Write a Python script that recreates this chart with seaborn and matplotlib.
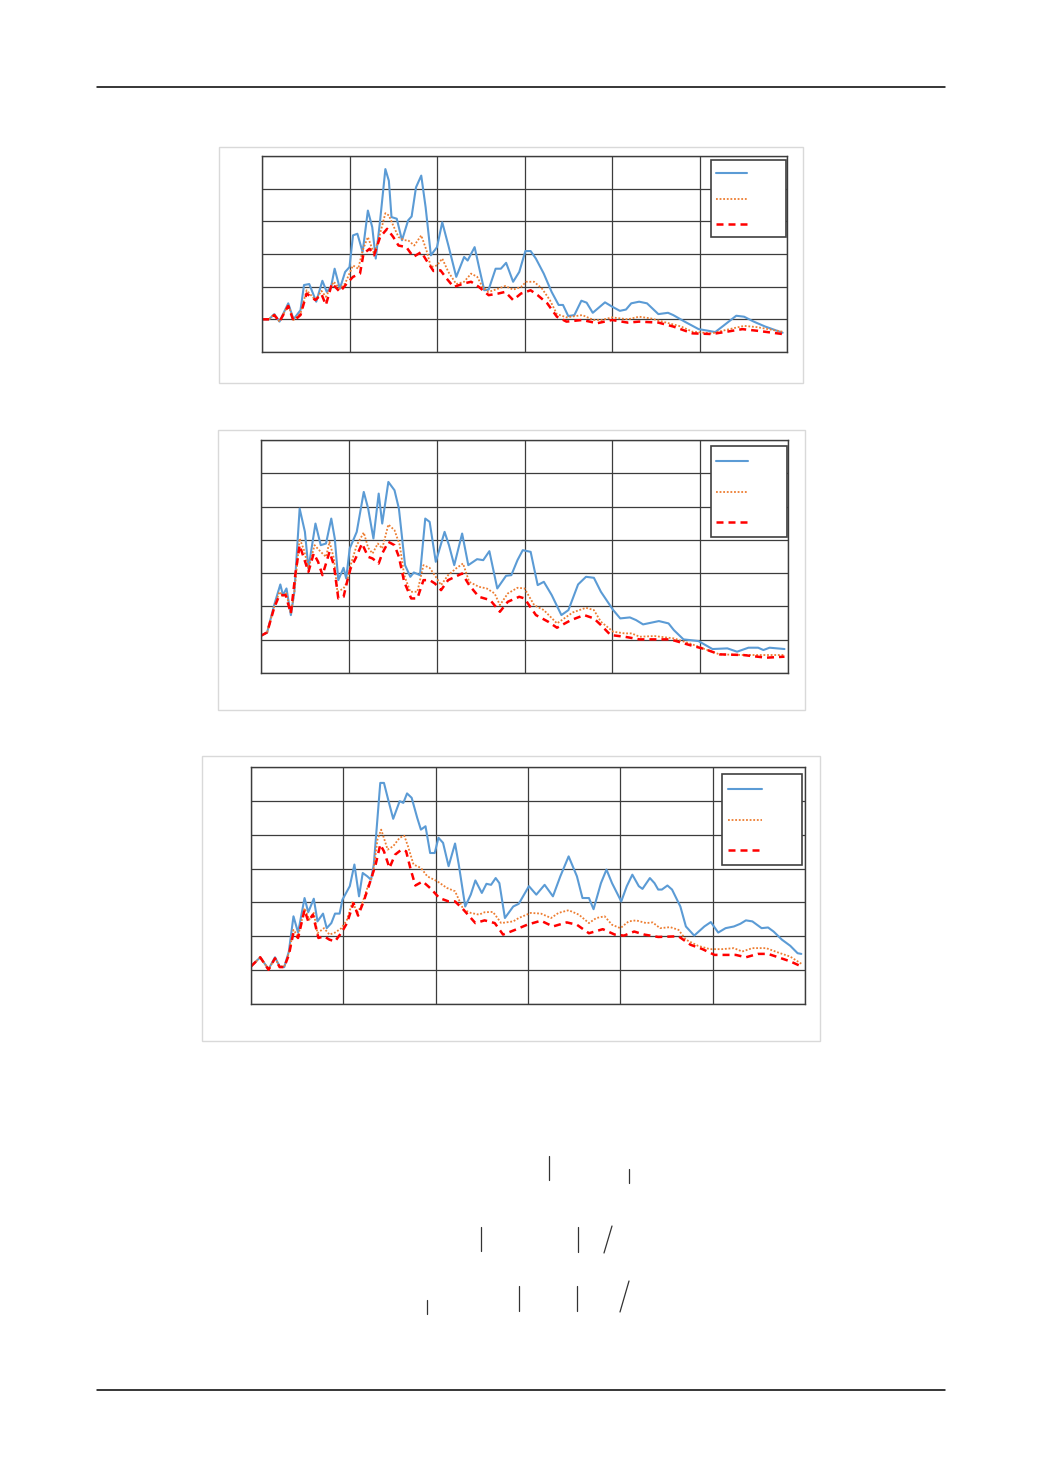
import matplotlib
matplotlib.use("Agg")
import matplotlib.pyplot as plt
from matplotlib.lines import Line2D
from matplotlib.patches import Rectangle
import numpy as np
import pandas as pd
import seaborn as sns

sns.set_theme(style="white")
plt.rcParams["font.family"] = ["DejaVu Sans"]

# ---------------------------------------------------------------- data
# (x, value) pairs for the three traces of each panel
panel_a_solid = [
    (0.00, 0.00), (0.08, 0.00), (0.14, 0.16), (0.20, -0.07), (0.30, 0.49), (0.36, 0.00),
    (0.44, 0.28), (0.48, 1.05), (0.54, 1.08), (0.62, 0.54), (0.69, 1.18), (0.74, 0.84),
    (0.79, 1.00), (0.83, 1.55), (0.89, 0.94), (0.95, 1.45), (1.00, 1.60), (1.04, 2.57),
    (1.09, 2.62), (1.15, 2.06), (1.21, 3.33), (1.26, 2.82), (1.30, 1.86), (1.35, 3.03),
    (1.41, 4.60), (1.45, 4.24), (1.48, 3.13), (1.54, 3.08), (1.60, 2.42), (1.67, 3.03),
    (1.71, 3.15), (1.76, 4.04), (1.82, 4.40), (1.87, 3.43), (1.93, 1.96), (2.00, 2.21),
    (2.06, 2.97), (2.13, 2.26), (2.22, 1.30), (2.31, 1.91), (2.35, 1.80), (2.43, 2.21),
    (2.48, 1.60), (2.54, 0.89), (2.59, 0.91), (2.67, 1.55), (2.73, 1.55), (2.79, 1.73),
    (2.87, 1.15), (2.94, 1.45), (3.01, 2.09), (3.07, 2.09), (3.13, 1.86), (3.22, 1.40),
    (3.31, 0.84), (3.39, 0.44), (3.44, 0.44), (3.50, 0.10), (3.57, 0.13), (3.65, 0.57),
    (3.71, 0.51), (3.78, 0.20), (3.92, 0.52), (4.00, 0.39), (4.09, 0.26), (4.16, 0.30),
    (4.22, 0.49), (4.31, 0.54), (4.40, 0.49), (4.53, 0.16), (4.64, 0.20), (4.70, 0.13),
    (4.83, -0.07), (4.99, -0.30), (5.10, -0.35), (5.18, -0.39), (5.31, -0.12), (5.42, 0.11),
    (5.51, 0.08), (5.62, -0.07), (5.75, -0.22), (5.95, -0.41),
]
panel_a_dotted = [
    (0.00, 0.00), (0.08, 0.00), (0.14, 0.16), (0.20, -0.07), (0.30, 0.44), (0.36, -0.02),
    (0.44, 0.18), (0.51, 0.89), (0.61, 0.59), (0.68, 0.87), (0.73, 0.69), (0.82, 1.15),
    (0.89, 0.94), (0.95, 1.10), (1.04, 1.65), (1.10, 1.55), (1.15, 2.11), (1.21, 2.52),
    (1.28, 2.01), (1.34, 2.52), (1.41, 3.25), (1.45, 3.18), (1.50, 2.87), (1.56, 2.52),
    (1.63, 2.42), (1.67, 2.42), (1.74, 2.26), (1.82, 2.57), (1.88, 2.11), (1.93, 1.60),
    (2.00, 1.65), (2.06, 1.86), (2.13, 1.45), (2.22, 1.08), (2.31, 1.15), (2.39, 1.40),
    (2.46, 1.30), (2.52, 0.99), (2.59, 0.84), (2.70, 0.94), (2.78, 1.02), (2.87, 0.91),
    (2.96, 0.99), (3.02, 1.15), (3.11, 1.15), (3.20, 0.94), (3.29, 0.59), (3.37, 0.16),
    (3.48, 0.06), (3.66, 0.13), (3.79, -0.02), (3.88, -0.02), (4.00, 0.06), (4.18, 0.00),
    (4.31, 0.08), (4.44, 0.03), (4.62, -0.10), (4.79, -0.22), (4.92, -0.38), (5.14, -0.43),
    (5.31, -0.32), (5.51, -0.20), (5.66, -0.24), (5.95, -0.38),
]
panel_a_dashed = [
    (0.00, 0.00), (0.08, 0.00), (0.14, 0.13), (0.20, -0.07), (0.30, 0.41), (0.36, -0.05),
    (0.44, 0.13), (0.51, 0.79), (0.61, 0.59), (0.68, 0.77), (0.73, 0.44), (0.80, 1.10),
    (0.89, 0.84), (0.97, 1.10), (1.04, 1.30), (1.12, 1.40), (1.16, 2.01), (1.23, 2.16),
    (1.28, 1.96), (1.35, 2.52), (1.43, 2.77), (1.50, 2.52), (1.56, 2.26), (1.65, 2.21),
    (1.73, 1.91), (1.82, 2.06), (1.89, 1.76), (1.96, 1.48), (2.04, 1.50), (2.11, 1.25),
    (2.19, 0.99), (2.31, 1.10), (2.39, 1.15), (2.48, 0.99), (2.59, 0.74), (2.70, 0.79),
    (2.78, 0.84), (2.87, 0.59), (2.96, 0.79), (3.07, 0.89), (3.15, 0.74), (3.26, 0.49),
    (3.37, 0.08), (3.48, -0.07), (3.66, -0.02), (3.83, -0.12), (4.00, -0.02), (4.18, -0.10),
    (4.31, -0.07), (4.53, -0.10), (4.70, -0.22), (4.92, -0.43), (5.14, -0.45), (5.31, -0.38),
    (5.49, -0.30), (5.66, -0.35), (5.95, -0.45),
]

panel_b_solid = [
    (0.00, 0.12), (0.07, 0.22), (0.15, 1.04), (0.22, 1.66), (0.25, 1.34), (0.29, 1.54),
    (0.34, 0.74), (0.38, 1.44), (0.44, 3.94), (0.50, 3.24), (0.54, 2.14), (0.62, 3.49),
    (0.68, 2.84), (0.74, 2.89), (0.80, 3.64), (0.84, 3.04), (0.88, 1.79), (0.94, 2.16),
    (0.97, 1.84), (1.01, 2.74), (1.09, 3.24), (1.17, 4.44), (1.22, 3.94), (1.28, 3.04),
    (1.34, 4.39), (1.38, 3.49), (1.45, 4.74), (1.52, 4.49), (1.57, 3.94), (1.64, 2.24),
    (1.70, 1.89), (1.74, 2.02), (1.81, 1.94), (1.87, 3.64), (1.92, 3.54), (1.99, 2.34),
    (2.04, 2.79), (2.09, 3.24), (2.14, 2.84), (2.20, 2.24), (2.29, 3.19), (2.36, 2.24),
    (2.46, 2.42), (2.53, 2.39), (2.60, 2.66), (2.69, 1.54), (2.79, 1.92), (2.85, 1.94),
    (2.92, 2.39), (2.98, 2.69), (3.07, 2.64), (3.15, 1.64), (3.22, 1.74), (3.31, 1.34),
    (3.42, 0.74), (3.50, 0.89), (3.61, 1.66), (3.70, 1.89), (3.79, 1.86), (3.87, 1.44),
    (4.01, 0.89), (4.09, 0.64), (4.20, 0.67), (4.27, 0.59), (4.35, 0.46), (4.53, 0.56),
    (4.64, 0.49), (4.70, 0.29), (4.81, 0.01), (4.98, -0.04), (5.14, -0.28), (5.31, -0.26),
    (5.42, -0.36), (5.55, -0.24), (5.66, -0.24), (5.72, -0.31), (5.79, -0.24), (5.96, -0.28),
]
panel_b_dotted = [
    (0.00, 0.12), (0.07, 0.22), (0.15, 0.99), (0.21, 1.44), (0.25, 1.32), (0.29, 1.39),
    (0.34, 0.79), (0.38, 1.44), (0.44, 3.04), (0.49, 2.69), (0.54, 2.14), (0.61, 2.84),
    (0.68, 2.64), (0.74, 2.49), (0.78, 2.94), (0.83, 2.44), (0.87, 1.44), (0.94, 1.54),
    (0.98, 1.74), (1.02, 2.24), (1.09, 2.84), (1.17, 3.22), (1.22, 2.76), (1.27, 2.59),
    (1.33, 2.89), (1.38, 2.74), (1.45, 3.46), (1.52, 3.29), (1.58, 2.84), (1.63, 1.94),
    (1.70, 1.44), (1.78, 1.44), (1.85, 2.24), (1.92, 2.16), (1.99, 1.89), (2.05, 1.64),
    (2.13, 1.94), (2.22, 2.14), (2.30, 2.29), (2.37, 1.74), (2.48, 1.59), (2.57, 1.54),
    (2.66, 1.39), (2.72, 1.04), (2.81, 1.39), (2.92, 1.56), (3.00, 1.54), (3.11, 1.04),
    (3.22, 0.89), (3.37, 0.49), (3.55, 0.82), (3.70, 0.96), (3.79, 0.89), (3.87, 0.54),
    (4.01, 0.24), (4.14, 0.19), (4.22, 0.19), (4.31, 0.09), (4.48, 0.11), (4.70, 0.04),
    (4.88, -0.11), (5.05, -0.28), (5.22, -0.44), (5.49, -0.46), (5.75, -0.46), (5.96, -0.46),
]
panel_b_dashed = [
    (0.00, 0.12), (0.07, 0.22), (0.15, 0.96), (0.21, 1.34), (0.28, 1.34), (0.34, 0.79),
    (0.39, 1.94), (0.44, 2.84), (0.49, 2.44), (0.54, 2.04), (0.60, 2.59), (0.65, 2.34),
    (0.70, 1.94), (0.78, 2.64), (0.83, 2.24), (0.88, 1.24), (0.94, 1.29), (0.98, 1.74),
    (1.02, 2.14), (1.08, 2.46), (1.15, 2.89), (1.22, 2.49), (1.27, 2.44), (1.34, 2.29),
    (1.38, 2.59), (1.45, 2.94), (1.52, 2.84), (1.57, 2.49), (1.63, 1.74), (1.71, 1.24),
    (1.78, 1.24), (1.85, 1.79), (1.92, 1.79), (1.98, 1.69), (2.05, 1.49), (2.13, 1.79),
    (2.29, 1.99), (2.37, 1.64), (2.48, 1.29), (2.61, 1.19), (2.72, 0.84), (2.81, 1.14),
    (2.94, 1.29), (3.00, 1.24), (3.13, 0.74), (3.27, 0.54), (3.37, 0.36), (3.53, 0.59),
    (3.68, 0.74), (3.79, 0.64), (3.87, 0.44), (3.98, 0.14), (4.14, 0.09), (4.31, 0.01),
    (4.48, 0.01), (4.66, 0.01), (4.88, -0.16), (5.05, -0.28), (5.22, -0.44), (5.49, -0.46),
    (5.75, -0.54), (5.96, -0.51),
]

panel_c_solid = [
    (0.00, 0.11), (0.10, 0.38), (0.19, 0.03), (0.26, 0.38), (0.31, 0.11), (0.36, 0.09),
    (0.41, 0.55), (0.46, 1.59), (0.51, 1.11), (0.58, 2.13), (0.62, 1.71), (0.68, 2.11),
    (0.72, 1.44), (0.78, 1.67), (0.82, 1.24), (0.87, 1.39), (0.91, 1.67), (0.96, 1.67),
    (0.99, 2.08), (1.07, 2.48), (1.12, 3.12), (1.17, 2.18), (1.21, 2.87), (1.26, 2.77),
    (1.30, 2.67), (1.33, 3.12), (1.40, 5.53), (1.44, 5.53), (1.49, 4.99), (1.54, 4.47),
    (1.61, 4.99), (1.65, 4.94), (1.69, 5.22), (1.74, 5.09), (1.80, 4.50), (1.84, 4.15),
    (1.89, 4.25), (1.94, 3.46), (1.99, 3.46), (2.03, 3.91), (2.08, 3.76), (2.14, 3.07),
    (2.21, 3.74), (2.25, 3.12), (2.32, 1.88), (2.38, 2.23), (2.43, 2.65), (2.50, 2.28),
    (2.55, 2.55), (2.60, 2.52), (2.65, 2.72), (2.69, 2.57), (2.75, 1.54), (2.84, 1.88),
    (2.90, 1.96), (3.01, 2.48), (3.09, 2.23), (3.18, 2.52), (3.27, 2.18), (3.35, 2.77),
    (3.44, 3.36), (3.53, 2.77), (3.59, 2.13), (3.66, 2.13), (3.71, 1.80), (3.79, 2.57),
    (3.85, 2.97), (3.91, 2.57), (4.01, 2.03), (4.07, 2.48), (4.13, 2.82), (4.20, 2.48),
    (4.24, 2.40), (4.32, 2.72), (4.37, 2.57), (4.41, 2.38), (4.45, 2.38), (4.51, 2.50),
    (4.56, 2.38), (4.65, 1.88), (4.71, 1.29), (4.80, 1.02), (4.91, 1.29), (4.98, 1.42),
    (5.06, 1.11), (5.14, 1.24), (5.23, 1.29), (5.30, 1.37), (5.36, 1.47), (5.43, 1.44),
    (5.53, 1.24), (5.60, 1.26), (5.66, 1.14), (5.75, 0.90), (5.84, 0.72), (5.92, 0.50),
    (5.96, 0.48),
]
panel_c_dotted = [
    (0.00, 0.11), (0.10, 0.38), (0.19, 0.03), (0.26, 0.35), (0.31, 0.11), (0.36, 0.11),
    (0.41, 0.50), (0.46, 1.19), (0.51, 1.00), (0.58, 1.83), (0.63, 1.49), (0.68, 1.69),
    (0.72, 1.09), (0.79, 1.24), (0.85, 1.05), (0.91, 1.11), (0.98, 1.24), (1.04, 1.49),
    (1.10, 2.03), (1.15, 1.69), (1.20, 1.93), (1.26, 2.43), (1.32, 2.82), (1.37, 3.86),
    (1.41, 4.15), (1.48, 3.56), (1.54, 3.66), (1.61, 3.91), (1.66, 3.97), (1.70, 3.66),
    (1.76, 3.12), (1.84, 3.02), (1.91, 2.77), (2.02, 2.62), (2.12, 2.43), (2.21, 2.33),
    (2.30, 1.79), (2.38, 1.69), (2.47, 1.64), (2.53, 1.71), (2.62, 1.72), (2.71, 1.39),
    (2.84, 1.44), (2.90, 1.54), (3.03, 1.69), (3.14, 1.67), (3.25, 1.54), (3.33, 1.69),
    (3.44, 1.77), (3.55, 1.64), (3.66, 1.39), (3.74, 1.54), (3.83, 1.59), (3.91, 1.34),
    (4.00, 1.24), (4.09, 1.44), (4.17, 1.47), (4.28, 1.39), (4.35, 1.41), (4.43, 1.24),
    (4.54, 1.27), (4.63, 1.19), (4.71, 0.90), (4.84, 0.72), (4.97, 0.62), (5.10, 0.62),
    (5.23, 0.65), (5.32, 0.55), (5.43, 0.65), (5.58, 0.65), (5.71, 0.52), (5.84, 0.40),
    (5.96, 0.19),
]
panel_c_dashed = [
    (0.00, 0.11), (0.10, 0.38), (0.19, 0.01), (0.26, 0.35), (0.31, 0.09), (0.36, 0.09),
    (0.41, 0.45), (0.46, 1.11), (0.51, 0.95), (0.58, 1.78), (0.62, 1.44), (0.67, 1.64),
    (0.73, 0.95), (0.79, 1.00), (0.85, 0.90), (0.91, 0.85), (0.98, 1.11), (1.04, 1.39),
    (1.11, 1.98), (1.16, 1.61), (1.22, 2.03), (1.28, 2.52), (1.35, 3.12), (1.40, 3.71),
    (1.44, 3.51), (1.50, 3.02), (1.56, 3.41), (1.63, 3.56), (1.68, 3.51), (1.73, 2.97),
    (1.78, 2.50), (1.86, 2.62), (1.95, 2.40), (2.04, 2.13), (2.14, 2.03), (2.21, 2.03),
    (2.30, 1.79), (2.43, 1.39), (2.53, 1.47), (2.64, 1.39), (2.73, 1.05), (2.86, 1.19),
    (2.99, 1.34), (3.14, 1.46), (3.27, 1.29), (3.42, 1.41), (3.53, 1.34), (3.66, 1.09),
    (3.81, 1.21), (3.94, 1.05), (4.04, 1.02), (4.15, 1.14), (4.26, 1.05), (4.41, 0.98),
    (4.63, 1.00), (4.76, 0.75), (4.89, 0.62), (5.02, 0.45), (5.14, 0.45), (5.25, 0.45),
    (5.36, 0.38), (5.49, 0.48), (5.60, 0.48), (5.71, 0.38), (5.84, 0.26), (5.96, 0.11),
]

x_grid = [0, 1, 2, 3, 4, 5, 6]
panel_a_yrange = [-1, 5]
panel_b_yrange = [-1, 6]
panel_c_yrange = [-1, 6]

# ---------------------------------------------------------------- page
W, H = 1040, 1473
DPI = 100
fig = plt.figure(figsize=(W / DPI, H / DPI), dpi=DPI)
fig.patch.set_facecolor("white")


def fbox(x0, y0, x1, y1):
    return [x0 / W, 1 - y1 / H, (x1 - x0) / W, (y1 - y0) / H]


def page_rule(y):
    fig.add_artist(Line2D([97 / W, 945 / W], [1 - y / H] * 2,
                          transform=fig.transFigure, color="black", lw=1.1))


page_rule(87)
page_rule(1390)

trace_styles = {
    "solid": dict(color="#5B9BD5", lw=1.5, linestyle="-"),
    "dotted": dict(color="#ED7D31", lw=1.3, linestyle=(0, (1, 1.0))),
    "dashed": dict(color="#FF0000", lw=1.8, linestyle=(0, (2.8, 2.0))),
}

panels = [
    # chart frame, axes box, y range, traces,
    # legend box (left, top, width, height, row pitch, side pad, handle length) in px
    dict(frame=(219, 147, 803, 383), axes=(262, 156, 787, 352), yr=panel_a_yrange,
         traces={"solid": panel_a_solid, "dotted": panel_a_dotted, "dashed": panel_a_dashed},
         legend=(711, 160, 75, 77, 25.5, 5, 31)),
    dict(frame=(218, 430, 805, 710), axes=(261, 440, 788, 673), yr=panel_b_yrange,
         traces={"solid": panel_b_solid, "dotted": panel_b_dotted, "dashed": panel_b_dashed},
         legend=(711, 446, 76, 91, 30.5, 5, 32)),
    dict(frame=(202, 756, 820, 1041), axes=(251, 767, 805, 1004), yr=panel_c_yrange,
         traces={"solid": panel_c_solid, "dotted": panel_c_dotted, "dashed": panel_c_dashed},
         legend=(722, 774, 80, 91, 30.5, 6, 34)),
]

grid_color = "#3c3c3c"
fs_pt = 6
fs_px = fs_pt * DPI / 72


def make_legend(ax, handles, spec, hh, ls):
    lx, ly, lw_, lh, pitch, pad, hlen = spec
    leg = ax.legend(handles=handles, labels=["", "", ""], loc="upper left",
                    bbox_to_anchor=(lx / W, 1 - ly / H), bbox_transform=fig.transFigure,
                    borderaxespad=0, fontsize=fs_pt, frameon=True, fancybox=False,
                    framealpha=1, edgecolor="#404040",
                    borderpad=pad / fs_px, labelspacing=ls,
                    handleheight=hh, handlelength=hlen / fs_px,
                    handletextpad=(lw_ - 2 * pad - hlen) / fs_px)
    leg.get_frame().set_linewidth(1.2)
    return leg


def fitted_legend(ax, handles, spec):
    """Tune row height and spacing so the legend box and rows land on the given sizes."""
    lx, ly, lw_, lh, pitch, pad, hlen = spec
    row_t = lh - 2 * pad - 2 * pitch
    gap_t = pitch - row_t
    hh = (row_t / fs_px - 0.245) / 0.65
    ls = gap_t / fs_px
    for _ in range(4):
        leg = make_legend(ax, handles, spec, hh, ls)
        fig.canvas.draw()
        r = fig.canvas.get_renderer()
        box_h = leg.get_frame().get_window_extent(r).height
        ys = [np.mean(l.get_window_extent(r).intervaly) for l in leg.get_lines()]
        pitch_got = float(np.mean(np.abs(np.diff(ys))))
        row_got = box_h - 2 * pad - 2 * pitch_got
        gap_got = pitch_got - row_got
        hh += (row_t - row_got) / (0.65 * fs_px)
        ls += (gap_t - gap_got) / fs_px
    leg = make_legend(ax, handles, spec, hh, ls)
    # the handle lines sit half a descent above the row centre; bring them back to it
    descent_pt = 0.35 * fs_pt * (hh - 0.7)
    for l in leg.get_lines():
        yd = np.asarray(l.get_ydata(), dtype=float)
        l.set_ydata(yd - descent_pt / 2)
    return leg


for p in panels:
    fx0, fy0, fx1, fy1 = p["frame"]
    fig.add_artist(Rectangle((fx0 / W, 1 - fy1 / H), (fx1 - fx0) / W, (fy1 - fy0) / H,
                             transform=fig.transFigure, fill=False,
                             edgecolor="#d9d9d9", lw=1.0))
    ax = fig.add_axes(fbox(*p["axes"]))
    ax.set_facecolor("white")

    handles = []
    for name, pts in p["traces"].items():
        df = pd.DataFrame(pts, columns=["x", "value"])
        sns.lineplot(data=df, x="x", y="value", ax=ax, estimator=None, sort=False,
                     legend=False, **trace_styles[name])
        handles.append(ax.lines[-1])

    ax.set_xlim(x_grid[0], x_grid[-1])
    ax.set_ylim(*p["yr"])
    ax.set_xticks(x_grid)
    ax.set_yticks(range(p["yr"][0], p["yr"][1] + 1))
    ax.grid(True, color=grid_color, lw=0.9)
    ax.set_axisbelow(True)
    ax.tick_params(labelleft=False, labelbottom=False, length=0)
    ax.set_xlabel("")
    ax.set_ylabel("")
    for s in ax.spines.values():
        s.set_visible(True)
        s.set_color(grid_color)
        s.set_linewidth(1.0)

    fitted_legend(ax, handles, p["legend"])

# fraction bars and slashes left in the formula block
formula_strokes = [
    ((549, 1156), (549, 1180)), ((629, 1169), (629, 1183)),
    ((481, 1227), (481, 1251)), ((578, 1227), (578, 1252)), ((612, 1226), (604, 1253)),
    ((427, 1300), (427, 1314)), ((519, 1286), (519, 1311)), ((577, 1286), (577, 1311)),
    ((629, 1281), (620, 1312)),
]
for (x0, y0), (x1, y1) in formula_strokes:
    fig.add_artist(Line2D([x0 / W, x1 / W], [1 - y0 / H, 1 - y1 / H],
                          transform=fig.transFigure, color="#333333", lw=0.9))

fig.savefig("out.png", dpi=DPI, facecolor="white")
